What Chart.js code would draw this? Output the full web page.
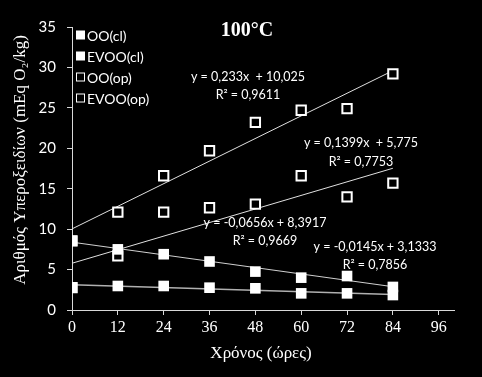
<!DOCTYPE html>
<html><head><meta charset="utf-8">
<script src="https://cdn.jsdelivr.net/npm/chart.js@4.4.1/dist/chart.umd.min.js"></script>
<style>html,body{margin:0;padding:0;background:#000;}#wrap{width:482px;height:377px;position:relative;}</style>
</head><body><div id="wrap"><canvas id="c"></canvas></div>
<script>
// ---- data ----
const hours = [0, 12, 24, 36, 48, 60, 72, 84];
const xTickValues = [0, 12, 24, 36, 48, 60, 72, 84, 96];
const seriesNames = ['OO(cl)', 'EVOO(cl)', 'OO(op)', 'EVOO(op)'];
const ooCl   = [2.76, 2.97, 2.97, 2.76, 2.68, 2.06, 2.06, 1.85];
const evooCl = [8.55, 7.50, 6.90, 6.00, 4.75, 4.00, 4.20, 2.85];
const ooOp   = [2.76, 6.70, 12.10, 12.65, 13.10, 16.60, 14.00, 15.70];
const evooOp = [8.55, 12.10, 16.60, 19.70, 23.20, 24.70, 24.90, 29.20];
// trend line end points (x = 0 and x = 84)
const trendX = [0, 84];
const trendOoCl   = [3.13, 1.92];
const trendEvooCl = [8.39, 2.88];
const trendOoOp   = [5.78, 17.53];
const trendEvooOp = [10.03, 29.60];
const equationTexts = [
  ['y = 0,233x  + 10,025', 'R\u00B2 = 0,9611'],
  ['y = 0,1399x  + 5,775', 'R\u00B2 = 0,7753'],
  ['y = -0,0656x + 8,3917', 'R\u00B2 = 0,9669'],
  ['y = -0,0145x + 3,1333', 'R\u00B2 = 0,7856']
];
const titleText = '100\u00B0C';
const xTitle = 'Χρόνος (ώρες)';
const yTitle = 'Αριθμός Υπεροξειδίων (mEq O\u2082/kg)';

const pts = (xs, ys) => xs.map((x, i) => ({x, y: ys[i]}));
const AX = '#d9d9d9';
const SANS = 'Lato, "Liberation Sans", sans-serif';
const SERIF = '"Liberation Serif", "DejaVu Serif", serif';

function markerSet(label, data, filled) {
  return {
    type: 'scatter', label, data,
    pointStyle: 'rect',
    pointRadius: filled ? 7.5 : 6.6,
    pointHoverRadius: filled ? 7.5 : 6.6,
    pointBackgroundColor: filled ? '#ffffff' : '#000000',
    pointBorderColor: '#ffffff',
    pointBorderWidth: filled ? 0 : 2,
    showLine: false,
    order: filled ? 0 : 1
  };
}
function trendSet(data, color, width) {
  return {
    type: 'line', label: '', data,
    borderColor: color, borderWidth: width,
    pointRadius: 0, fill: false, order: 5, tension: 0
  };
}

const overlay = {
  id: 'overlay',
  afterDraw(chart) {
    const ctx = chart.ctx;
    ctx.save();
    ctx.fillStyle = '#ffffff';
    // title
    ctx.font = 'bold 20px ' + SERIF;
    ctx.textAlign = 'center'; ctx.textBaseline = 'middle';
    ctx.fillText(titleText, 247, 31);
    // legend
    const ly = [35, 56, 77, 98];
    ctx.font = '14px ' + SANS;
    ctx.textAlign = 'left';
    seriesNames.forEach((n, i) => {
      const y = ly[i];
      if (i < 2) {
        ctx.fillStyle = '#ffffff';
        ctx.fillRect(76, y - 4.5, 9, 9);
      } else {
        ctx.strokeStyle = '#ffffff'; ctx.lineWidth = 1;
        ctx.strokeRect(76.5, y - 4, 8, 8);
      }
      ctx.fillStyle = '#ffffff';
      ctx.fillText(n, 87, y + 1);
    });
    // equations
    const eqPos = [[248, 77, 95], [361, 143, 162], [265, 223, 241], [375, 247, 265]];
    ctx.font = '12.5px ' + SANS;
    ctx.textAlign = 'center';
    equationTexts.forEach((t, i) => {
      const p = eqPos[i];
      ctx.fillText(t[0], p[0], p[1]);
      ctx.fillText(t[1], p[0], p[2]);
    });
    // axis titles
    ctx.font = '17px ' + SERIF;
    ctx.fillText(xTitle, 261, 354);
    ctx.translate(21, 160);
    ctx.rotate(-Math.PI / 2);
    ctx.fillText(yTitle, 0, 0);
    ctx.restore();
  }
};

new Chart(document.getElementById('c'), {
  type: 'scatter',
  data: {
    datasets: [
      markerSet(seriesNames[0], pts(hours, ooCl), true),
      markerSet(seriesNames[1], pts(hours, evooCl), true),
      markerSet(seriesNames[2], pts(hours, ooOp), false),
      markerSet(seriesNames[3], pts(hours, evooOp), false),
      trendSet(pts(trendX, trendOoCl), '#b0b0b0', 1.5),
      trendSet(pts(trendX, trendEvooCl), '#d0d0d0', 1),
      trendSet(pts(trendX, trendOoOp), '#e0e0e0', 1),
      trendSet(pts(trendX, trendEvooOp), '#e0e0e0', 1)
    ]
  },
  options: {
    responsive: true, maintainAspectRatio: false, animation: false,
    layout: {padding: {left: 0, right: 28, top: 27, bottom: 0}},
    plugins: {legend: {display: false}, tooltip: {enabled: false}, title: {display: false}},
    scales: {
      x: {
        type: 'linear', min: 0, max: 100,
        afterBuildTicks: s => { s.ticks = xTickValues.map(v => ({value: v})); },
        afterFit: s => { s.height = 67; },
        grid: {display: true, drawOnChartArea: false, drawTicks: true, tickLength: 5, color: AX},
        border: {display: true, color: AX, width: 1},
        ticks: {color: '#ffffff', font: {family: SERIF, size: 16}, padding: 3, maxRotation: 0}
      },
      y: {
        min: 0, max: 35,
        afterFit: s => { s.width = 72; },
        grid: {display: true, drawOnChartArea: false, drawTicks: true, tickLength: 5, color: AX},
        border: {display: true, color: AX, width: 1},
        ticks: {stepSize: 5, color: '#ffffff', font: {family: SANS, size: 15}, padding: 11}
      }
    }
  },
  plugins: [overlay]
});
</script></body></html>
